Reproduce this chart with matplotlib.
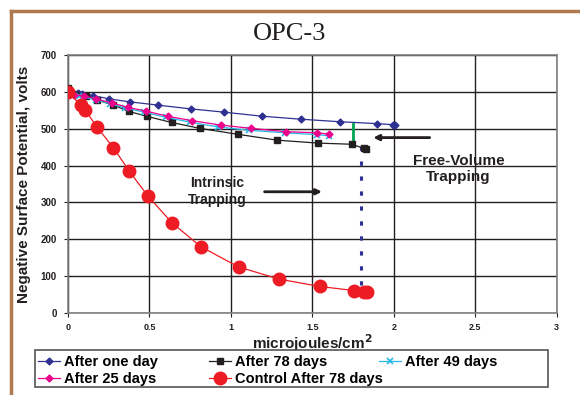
import matplotlib
matplotlib.use('Agg')
import matplotlib.pyplot as plt
from matplotlib.lines import Line2D
from matplotlib.patches import Rectangle

# values (microjoules/cm^2, volts)
one_day_x = [0, 0.06, 0.085, 0.156, 0.254, 0.381, 0.555, 0.753, 0.959, 1.192, 1.428, 1.671, 1.895, 1.998, 2.01]
one_day_y = [605, 596, 594, 590, 581, 573, 564, 554, 545, 534, 526, 519, 514, 511, 511]

d78_x = [0, 0.111, 0.18, 0.28, 0.375, 0.483, 0.636, 0.811, 1.042, 1.285, 1.537, 1.741, 1.815, 1.83]
d78_y = [610, 590, 578, 564, 547, 534, 517, 501, 485, 469, 461, 458, 447, 446]

d49_x = [0, 0.069, 0.17, 0.26, 0.35, 0.47, 0.6, 0.75, 0.92, 1.11, 1.33, 1.53, 1.6]
d49_y = [605, 588, 579, 568, 556, 545, 531, 518, 505, 496, 489, 484, 481]

d25_x = [0, 0.039, 0.096, 0.175, 0.27, 0.368, 0.478, 0.612, 0.761, 0.937, 1.126, 1.34, 1.531, 1.605]
d25_y = [605, 591, 590, 581, 570, 558, 548, 534, 522, 510, 501, 492, 489, 485]

ctrl_x = [0, 0.079, 0.106, 0.18, 0.28, 0.375, 0.49, 0.638, 0.816, 1.047, 1.296, 1.545, 1.755, 1.82, 1.836]
ctrl_y = [600, 564, 551, 504, 448, 386, 318, 245, 180, 125, 92, 72, 61, 58, 58]

ink = '#231f20'
navy = '#2e3192'
font = 'Liberation Sans'

fig = plt.figure(figsize=(5.8, 3.95), dpi=100)
ax = fig.add_axes([0.117, 0.2076, 0.843, 0.653])

l1, = ax.plot(one_day_x, one_day_y, color=navy, marker='D', markersize=3.5, lw=0.9, label='After one day', zorder=4)
l2, = ax.plot(d78_x, d78_y, color=ink, marker='s', markersize=4.5, lw=0.9, label='After 78 days', zorder=4)
l3, = ax.plot(d49_x, d49_y, color='#29b6e8', marker='x', markersize=4, mew=1.2, lw=0.9, label='After 49 days', zorder=4)
l4, = ax.plot(d25_x, d25_y, color='#ec008c', marker='D', markersize=3.5, lw=0.9, label='After 25 days', zorder=5)
l5, = ax.plot(ctrl_x, ctrl_y, color='#ed1c24', marker='o', markersize=9, lw=0.9, label='Control After 78 days', zorder=6)

# trapping markers
ax.plot([1.748, 1.748], [513, 458], color='#00a651', lw=2, zorder=3)
ax.plot([1.8, 1.8], [452, 60], color=navy, lw=2.2, ls=(0, (1.4, 3.5)), zorder=3)
ax.annotate('', xy=(1.576, 329), xytext=(1.19, 329),
            arrowprops=dict(arrowstyle='-|>', color=ink, lw=2, mutation_scale=8))
ax.annotate('', xy=(1.857, 476), xytext=(2.237, 476),
            arrowprops=dict(arrowstyle='-|>', color=ink, lw=2, mutation_scale=8))
ax.text(0.914, 329, 'Intrinsic\nTrapping', ha='center', va='center', fontsize=10,
        fontweight='bold', color=ink, family=font, linespacing=1.3)
ax.text(2.396, 390, 'Free-Volume\nTrapping', ha='center', va='center', fontsize=11,
        fontweight='bold', color=ink, family=font, linespacing=1.2)

ax.set_xlim(0, 3)
ax.set_ylim(0, 700)
ax.set_xticks([0, 0.5, 1, 1.5, 2, 2.5, 3])
ax.set_xticklabels(['0', '0.5', '1', '1.5', '2', '2.5', '3'])
ax.set_yticks(range(0, 701, 100))
ax.grid(True, color=ink, lw=1)
ax.set_axisbelow(True)
for s in ax.spines.values():
    s.set_color('#808080')
    s.set_linewidth(1.2)
ax.tick_params(length=3, color=ink, labelsize=7, pad=5)
ax.tick_params(axis='x', labelsize=6.5, pad=4)
for t in ax.get_xticklabels() + ax.get_yticklabels():
    t.set_fontweight('bold')
    t.set_family(font)
    t.set_color(ink)

ax.set_ylabel('Negative Surface Potential, volts', fontsize=11, fontweight='bold',
              family=font, color=ink)
ax.yaxis.set_label_coords(-0.09, 0.5)
ax.yaxis.label.set_va('center')
ax.set_xlabel('microjoules/cm$^\\mathbf{2}$', fontsize=11, fontweight='bold',
              family=font, color=ink)
ax.xaxis.set_label_coords(0.5, -0.118)
ax.xaxis.label.set_va('center')

fig.text(0.5, 0.913, 'OPC-3', ha='center', va='center', fontsize=19,
         family='Liberation Serif', color=ink)

# legend: frame plus three equally spaced columns
fig.add_artist(Rectangle((35 / 580, 1 - 387 / 395), 513 / 580, 37 / 395, transform=fig.transFigure,
                         facecolor='white', edgecolor='#555555', lw=1.2))
cols = [([l1, l4], 36), ([l2, l5], 207), ([l3], 377)]
for handles, px in cols:
    leg = fig.legend(handles, [h.get_label() for h in handles], loc='upper left',
                     bbox_to_anchor=(px / 580, 1 - 353 / 395), borderaxespad=0,
                     prop={'family': font, 'weight': 'bold', 'size': 10.5},
                     frameon=False, handlelength=1.5, handletextpad=0.3,
                     borderpad=0.15, labelspacing=0.2)

# brown page border
fig.add_artist(Line2D([11 / 580, 11 / 580], [0, 1 - 11 / 395], color='#b07a50', lw=2.5, transform=fig.transFigure))
fig.add_artist(Line2D([11 / 580, 1], [1 - 11 / 395, 1 - 11 / 395], color='#b07a50', lw=2.5, transform=fig.transFigure))

fig.savefig('out.png', dpi=100)
